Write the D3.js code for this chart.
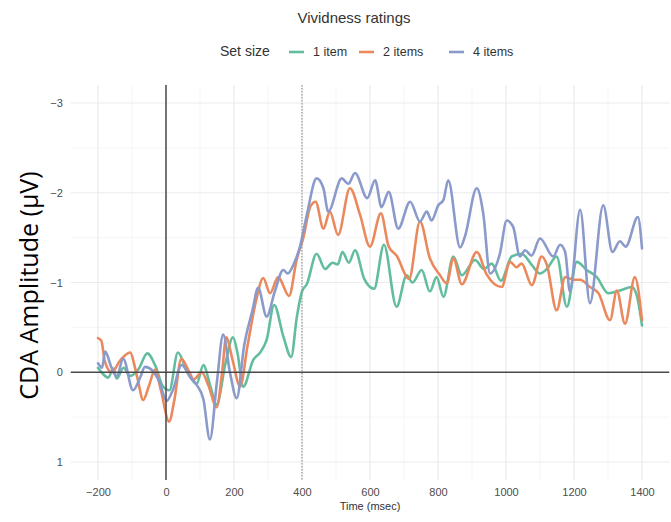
<!DOCTYPE html>
<html>
<head>
<meta charset="utf-8">
<script src="https://cdn.jsdelivr.net/npm/d3@7"></script>
<style>
  html, body { margin: 0; padding: 0; background: #ffffff; }
  svg { display: block; }
</style>
</head>
<body>
<svg id="chart" width="671" height="522"></svg>
<script>
// CDA waveforms by set size, [time in ms, amplitude in µV]
const oneItem = [
  [-200,-0.05],[-185,0.02],[-170,0.06],[-155,-0.04],[-145,0.07],[-125,-0.05],[-105,0.04],
  [-80,-0.04],[-55,-0.21],[-30,-0.06],[-10,0.15],[10,0.2],[35,-0.22],[61,-0.02],[90,0.13],
  [110,-0.08],[130,0.15],[149,0.36],[175,-0.1],[197,-0.39],[210,-0.22],[227,0.16],[257,-0.14],
  [277,-0.22],[296,-0.36],[318,-0.75],[345,-0.4],[368,-0.17],[385,-0.62],[400,-0.9],[414,-0.98],
  [443,-1.32],[468,-1.15],[490,-1.22],[505,-1.2],[519,-1.34],[538,-1.22],[556,-1.36],[583,-1.04],
  [612,-0.93],[641,-1.42],[678,-0.73],[708,-1.08],[725,-1.0],[752,-1.14],[776,-0.9],[796,-1.06],
  [816,-0.84],[845,-1.29],[870,-1.08],[909,-1.25],[935,-1.15],[958,-1.21],[985,-1.02],[1017,-1.29],
  [1046,-1.32],[1075,-1.2],[1100,-1.1],[1120,-1.15],[1149,-1.29],[1179,-0.73],[1208,-1.23],
  [1237,-1.14],[1267,-1.06],[1301,-0.88],[1335,-0.91],[1370,-0.95],[1385,-0.85],[1400,-0.52]
];
const twoItems = [
  [-200,-0.38],[-190,-0.35],[-180,-0.12],[-160,0.0],[-135,-0.13],[-106,-0.22],[-85,0.05],
  [-67,0.31],[-50,0.15],[-32,-0.03],[-15,0.2],[9,0.55],[25,0.3],[45,-0.15],[65,-0.03],[82,0.08],
  [105,0.0],[125,0.15],[149,0.39],[165,0.0],[177,-0.39],[195,-0.15],[218,0.16],[240,-0.3],
  [265,-0.8],[286,-1.05],[306,-0.88],[330,-1.06],[362,-0.85],[384,-1.25],[404,-1.5],[425,-1.85],
  [440,-1.9],[463,-1.6],[482,-1.79],[506,-1.53],[541,-2.05],[571,-1.75],[600,-1.4],[632,-1.77],
  [655,-1.4],[678,-1.3],[715,-1.04],[747,-1.68],[776,-1.27],[806,-1.08],[826,-0.99],[845,-1.27],
  [870,-0.98],[914,-1.34],[943,-1.09],[987,-0.95],[1012,-1.23],[1031,-1.17],[1046,-1.21],
  [1076,-0.97],[1105,-1.29],[1120,-1.2],[1149,-0.69],[1174,-1.06],[1200,-1.03],[1218,-1.03],
  [1247,-0.95],[1272,-0.88],[1306,-0.58],[1326,-0.91],[1350,-0.54],[1379,-1.06],[1400,-0.58]
];
const fourItems = [
  [-200,-0.1],[-188,-0.05],[-179,-0.23],[-160,-0.05],[-145,0.05],[-126,-0.15],[-97,0.2],
  [-75,0.05],[-62,-0.06],[-40,-0.02],[-20,0.1],[2,0.32],[20,0.2],[46,-0.08],[70,0.05],[90,0.14],
  [110,0.3],[129,0.75],[150,0.1],[168,-0.42],[188,0.0],[208,0.29],[230,-0.3],[255,-0.7],
  [271,-0.94],[296,-0.62],[320,-0.9],[345,-1.14],[358,-1.1],[375,-1.2],[394,-1.4],[414,-1.75],
  [443,-2.16],[463,-2.05],[477,-1.79],[517,-2.16],[536,-2.1],[556,-2.22],[592,-1.94],[615,-2.14],
  [634,-1.84],[655,-2.01],[683,-1.6],[718,-1.9],[747,-1.68],[767,-1.79],[781,-1.69],[801,-1.86],
  [816,-1.92],[830,-2.14],[865,-1.39],[879,-1.51],[914,-2.05],[933,-1.77],[953,-1.1],[982,-1.32],
  [1002,-1.69],[1021,-1.62],[1041,-1.29],[1056,-1.36],[1075,-1.3],[1100,-1.49],[1139,-1.29],
  [1159,-1.42],[1174,-1.34],[1188,-0.9],[1218,-1.81],[1247,-0.77],[1286,-1.86],[1313,-1.34],
  [1335,-1.46],[1352,-1.4],[1388,-1.73],[1400,-1.38]
];

const seriesNames = ["1 item", "2 items", "4 items"];
const seriesColors = ["#62bd9e", "#ea895d", "#8a9acb"];
const xTicks = [-200, 0, 200, 400, 600, 800, 1000, 1200, 1400];
const yTicks = [-3, -2, -1, 0, 1];
const xMinor = [-100, 100, 300, 500, 700, 900, 1100, 1300];
const yMinor = [-2.5, -1.5, -0.5, 0.5];
const onsetMarkers = [0];
const retentionMarkers = [400];

const svg = d3.select("#chart");
const font = "'Liberation Sans', Arial, sans-serif";

// Scales: time runs left to right, amplitude axis is reversed (negative up)
const x = d3.scaleLinear().domain([-200, 1400]).range([98, 642]);
const y = d3.scaleLinear().domain([-3, 1]).range([103, 462]);
const xLim = [-280, 1480];
const yLim = [-3.2, 1.2];
const panelLeft = x(xLim[0]), panelRight = x(xLim[1]);
const panelTop = y(yLim[0]), panelBottom = y(yLim[1]);

const grid = svg.append("g");
grid.selectAll("line.ymin").data(yMinor).join("line")
  .attr("x1", panelLeft).attr("x2", panelRight).attr("y1", d => y(d)).attr("y2", d => y(d))
  .attr("stroke", "#f3f3f3").attr("stroke-width", 0.8);
grid.selectAll("line.xmin").data(xMinor).join("line")
  .attr("y1", panelTop).attr("y2", panelBottom).attr("x1", d => x(d)).attr("x2", d => x(d))
  .attr("stroke", "#f3f3f3").attr("stroke-width", 0.8);
grid.selectAll("line.ymaj").data(yTicks).join("line")
  .attr("x1", panelLeft).attr("x2", panelRight).attr("y1", d => y(d)).attr("y2", d => y(d))
  .attr("stroke", "#ebebeb").attr("stroke-width", 1.2);
grid.selectAll("line.xmaj").data(xTicks).join("line")
  .attr("y1", panelTop).attr("y2", panelBottom).attr("x1", d => x(d)).attr("x2", d => x(d))
  .attr("stroke", "#ebebeb").attr("stroke-width", 1.2);

// Waveforms
const line = d3.line().x(d => x(d[0])).y(d => y(d[1])).curve(d3.curveMonotoneX);
const allSeries = [oneItem, twoItems, fourItems];
svg.append("g").selectAll("path").data(allSeries).join("path")
  .attr("d", line)
  .attr("fill", "none")
  .attr("stroke", (d, i) => seriesColors[i])
  .attr("stroke-width", 2.6)
  .attr("stroke-linejoin", "round")
  .attr("stroke-linecap", "round");

// Reference lines: zero amplitude, stimulus onset, retention onset
svg.append("line")
  .attr("x1", panelLeft).attr("x2", panelRight).attr("y1", y(0)).attr("y2", y(0))
  .attr("stroke", "#4a4a4a").attr("stroke-width", 1.7);
svg.selectAll("line.onset").data(onsetMarkers).join("line")
  .attr("x1", d => x(d)).attr("x2", d => x(d)).attr("y1", panelTop).attr("y2", panelBottom)
  .attr("stroke", "#4a4a4a").attr("stroke-width", 1.5);
svg.selectAll("line.ret").data(retentionMarkers).join("line")
  .attr("x1", d => x(d)).attr("x2", d => x(d)).attr("y1", panelTop).attr("y2", panelBottom)
  .attr("stroke", "#9a9a9a").attr("stroke-width", 1.2).attr("stroke-dasharray", "1.5,1.5");

// Axes (labels only, no axis lines)
const xAxis = svg.append("g").attr("transform", `translate(0,${panelBottom})`)
  .call(d3.axisBottom(x).tickValues(xTicks).tickSize(0).tickPadding(8)
    .tickFormat(d => d < 0 ? "\u2212" + Math.abs(d) : d));
xAxis.select(".domain").remove();
xAxis.selectAll("text").attr("font-family", font).attr("font-size", 11).attr("fill", "#4d4d4d");

const yAxis = svg.append("g").attr("transform", `translate(${panelLeft},0)`)
  .call(d3.axisLeft(y).tickValues(yTicks).tickSize(0).tickPadding(8)
    .tickFormat(d => d < 0 ? "\u2212" + Math.abs(d) : d));
yAxis.select(".domain").remove();
yAxis.selectAll("text").attr("font-family", font).attr("font-size", 11).attr("fill", "#4d4d4d");

svg.append("text").attr("x", x(600)).attr("y", 510).attr("text-anchor", "middle")
  .attr("font-family", font).attr("font-size", 11).attr("fill", "#333").text("Time (msec)");

svg.append("text")
  .attr("transform", `translate(38,${(panelTop + panelBottom) / 2 + 3}) rotate(-90)`)
  .attr("text-anchor", "middle")
  .attr("font-family", "'Open Sans', 'Noto Sans', sans-serif").attr("font-size", 25)
  .attr("fill", "#000").text("CDA Amplitude (\u00b5V)");

// Title
svg.append("text").attr("x", 354).attr("y", 23).attr("text-anchor", "middle")
  .attr("font-family", font).attr("font-size", 15).attr("fill", "#333").text("Vividness ratings");

// Legend
const legend = svg.append("g").attr("font-family", font).attr("font-size", 12.5).attr("fill", "#333");
legend.append("text").attr("x", 220).attr("y", 56).attr("font-size", 14).text("Set size");
const keyX = [289, 359, 449];
seriesNames.forEach((name, i) => {
  legend.append("line").attr("x1", keyX[i]).attr("x2", keyX[i] + 15)
    .attr("y1", 52).attr("y2", 52).attr("stroke", seriesColors[i]).attr("stroke-width", 2.6);
  legend.append("text").attr("x", keyX[i] + 24).attr("y", 56).text(name);
});
</script>
</body>
</html>
